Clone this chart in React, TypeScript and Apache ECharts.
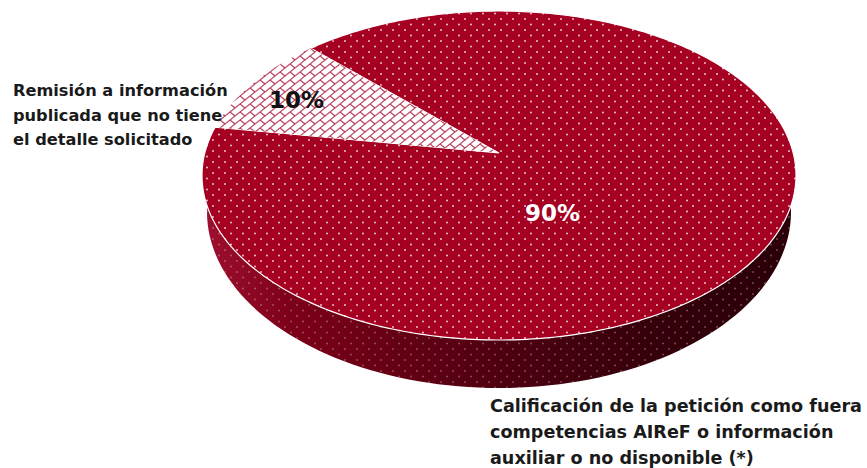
import React, { useEffect, useRef } from "react";
import * as echarts from "echarts";

const categories = [
  "Calificación de la petición como fuera\ncompetencias AIReF o información\nauxiliar o no disponible (*)",
  "Remisión a información\npublicada que no tiene\nel detalle solicitado",
];
const values = [90, 10];
const valueLabels = ["90%", "10%"];

const CX = 499, CY = 175.5, RX = 297, RY = 164.5;
const BCX = 499, BCY = 212, BRX = 292, BRY = 176;
const K = -0.137;
const START = 225.4;
const FONT = '"DejaVu Sans", sans-serif';

function rim(deg: number, r = 1): number[] {
  const t = (deg * Math.PI) / 180;
  const x = r * Math.cos(t), y = r * Math.sin(t);
  const d = 1 + K * y;
  return [CX + (RX * x * Math.sqrt(1 - K * K)) / d, CY + (RY * (y + K)) / d];
}

function tile(w: number, h: number, draw: (c: CanvasRenderingContext2D) => void) {
  const cv = document.createElement("canvas");
  cv.width = w; cv.height = h;
  draw(cv.getContext("2d")!);
  return cv;
}

function dotTile(alpha: number) {
  return tile(12, 11, (c) => {
    c.fillStyle = `rgba(255,255,255,${alpha})`;
    [[3, 2.5], [9, 8]].forEach(([x, y]) => {
      c.beginPath(); c.arc(x, y, 0.95, 0, Math.PI * 2); c.fill();
    });
  });
}

function brickTile() {
  return tile(10, 8, (c) => {
    c.fillStyle = "#fff"; c.fillRect(0, 0, 10, 8);
    c.scale(1.25, 1);
    c.strokeStyle = "#bb4560"; c.lineWidth = 1.1;
    for (let s = -16; s <= 24; s += 8) {
      c.beginPath(); c.moveTo(s + 16, -16); c.lineTo(s - 16, 16); c.stroke();
    }
    for (let i = -8; i <= 8; i += 8) for (let j = -8; j <= 8; j += 8) {
      c.beginPath(); c.moveTo(i, j); c.lineTo(i + 4, j + 4); c.stroke();
    }
  });
}

function lineTexts(text: string, x: number, ys: number[], font: string) {
  return text.split("\n").map((t, i) => ({
    type: "text", x, y: ys[i], z: 20,
    style: { text: t, fill: "#1a1a1a", font, verticalAlign: "middle" },
  }));
}

export default function App() {
  const ref = useRef<HTMLDivElement>(null);
  useEffect(() => {
    const chart = echarts.init(ref.current!, null, { renderer: "svg" });
    const total = values.reduce((a, b) => a + b, 0);
    const dots = dotTile(0.8);
    const sideDots = dotTile(0.32);
    const bricks = brickTile();
    const lowerSide = () => {
      const pts: number[][] = [];
      for (let a = -10; a <= 190; a += 2) {
        const t = (a * Math.PI) / 180;
        pts.push([BCX + BRX * Math.cos(t), BCY + BRY * Math.sin(t)]);
      }
      for (let a = 190; a >= -10; a -= 2) {
        const t = (a * Math.PI) / 180;
        pts.push([CX + RX * Math.cos(t), CY + RY * Math.sin(t)]);
      }
      return pts;
    };
    chart.setOption({
      animation: false,
      series: [{
        type: "custom",
        coordinateSystem: "none",
        data: values.map((v, i) => ({ value: v, name: categories[i] })),
        clip: false,
        renderItem: (params: any, api: any) => {
          const i = params.dataIndex;
          const before = values.slice(0, i).reduce((a, b) => a + b, 0);
          const a0 = START + (before / total) * 360;
          const a1 = a0 + (api.value(0) / total) * 360;
          const pts: number[][] = [rim(0, 0)];
          for (let a = a0; a < a1; a += 1) pts.push(rim(a));
          pts.push(rim(a1));
          const mid = i === 0;
          const children: any[] = [];
          if (mid) {
            const side = lowerSide();
            children.push({
              type: "polygon", shape: { points: side },
              style: {
                fill: {
                  type: "linear", x: 0, y: 0, x2: 1, y2: 0,
                  colorStops: [
                    { offset: 0, color: "#a01030" },
                    { offset: 0.15, color: "#7c0018" },
                    { offset: 0.5, color: "#4e0010" },
                    { offset: 0.75, color: "#36000b" },
                    { offset: 1, color: "#2a0008" },
                  ],
                },
              },
            });
            children.push({ type: "polygon", shape: { points: side }, style: { fill: { image: sideDots, repeat: "repeat" } } });
          }
          children.push({ type: "polygon", shape: { points: pts }, style: { fill: mid ? "#a50021" : "#ffffff", stroke: "#ffffff", lineWidth: mid ? 1.2 : 0 } });
          children.push({ type: "polygon", shape: { points: pts }, style: { fill: { image: mid ? dots : bricks, repeat: "repeat" } } });
          return { type: "group", children };
        },
      }],
      graphic: [
        { type: "text", x: 525, y: 213, z: 20, style: { text: valueLabels[0], fill: "#ffffff", font: `bold 23px ${FONT}`, verticalAlign: "middle" } },
        { type: "text", x: 269, y: 100, z: 20, style: { text: valueLabels[1], fill: "#111111", font: `bold 23px ${FONT}`, verticalAlign: "middle" } },
        ...lineTexts(categories[1], 13, [90, 115, 139], `bold 16.2px ${FONT}`),
        ...lineTexts(categories[0], 490, [406, 432, 458], `bold 17.6px ${FONT}`),
      ],
    });
    return () => chart.dispose();
  }, []);
  return <div ref={ref} style={{ position: "fixed", left: 0, top: 0, width: 867, height: 468, background: "#fff" }} />;
}
